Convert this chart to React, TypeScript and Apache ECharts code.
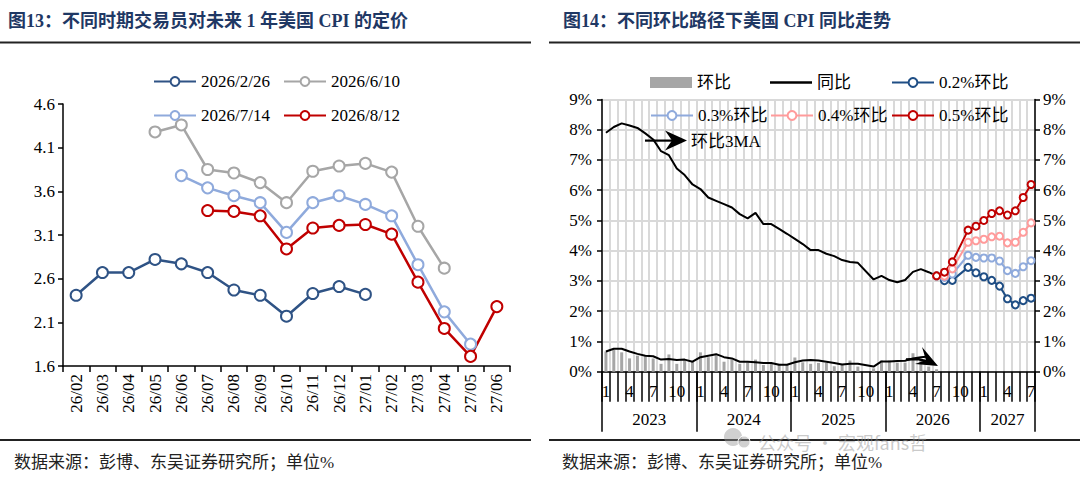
import React, { useEffect, useRef } from 'react';
import * as echarts from 'echarts';

const SERIF = '"Liberation Serif", "Times New Roman", "Noto Sans CJK SC", serif';
const TITLE_FONT = '"Liberation Serif", "Noto Sans CJK SC", serif';

// 图13 数据
const leftCategories = ['26/02', '26/03', '26/04', '26/05', '26/06', '26/07', '26/08', '26/09', '26/10', '26/11', '26/12', '27/01', '27/02', '27/03', '27/04', '27/05', '27/06'];
const leftTicks = [1.6, 2.1, 2.6, 3.1, 3.6, 4.1, 4.6];
const price0226 = [2.41, 2.67, 2.67, 2.82, 2.77, 2.67, 2.47, 2.41, 2.17, 2.43, 2.51, 2.42, null, null, null, null, null];
const price0610 = [null, null, null, 4.28, 4.36, 3.85, 3.81, 3.7, 3.47, 3.83, 3.89, 3.92, 3.82, 3.2, 2.72, null, null];
const price0714 = [null, null, null, null, 3.78, 3.64, 3.55, 3.47, 3.13, 3.47, 3.55, 3.45, 3.32, 2.76, 2.22, 1.85, null];
const price0812 = [null, null, null, null, null, 3.38, 3.37, 3.32, 2.94, 3.18, 3.21, 3.22, 3.11, 2.56, 2.03, 1.71, 2.28];

// 图14 数据
const years = ['2023', '2024', '2025', '2026', '2027'];
const monthsPerYear = [12, 12, 12, 12, 7];
const rightTicks = [0, 1, 2, 3, 4, 5, 6, 7, 8, 9];
// 2023/1 起
const yoy = [7.9, 8.09, 8.21, 8.14, 8.06, 7.88, 7.68, 7.29, 7.16, 6.72, 6.5, 6.19,
  6.04, 5.76, 5.65, 5.54, 5.43, 5.21, 5.07, 5.25, 4.88, 4.88, 4.72, 4.56,
  4.39, 4.22, 4.02, 4.02, 3.9, 3.82, 3.69, 3.63, 3.6, null, 3.05, 3.17,
  3.03, 2.96, 3.03, 3.3, 3.39, 3.29, 3.17];
const mom = [0.67, 0.73, 0.64, 0.44, 0.53, 0.51, 0.44, 0.26, 0.57, 0.26, 0.37, 0.33,
  0.64, 0.48, 0.56, 0.33, 0.4, 0.26, 0.31, 0.4, 0.22, 0.26, 0.26, 0.22,
  0.47, 0.31, 0.26, 0.29, 0.29, 0.18, 0.26, 0.37, 0.17, null, 0.11, 0.37,
  0.37, 0.3, 0.3, 0.61, 0.41, 0.17, 0.08];
const mom3ma = [0.67, 0.76, 0.76, 0.67, 0.59, 0.53, 0.51, 0.4, 0.42, 0.39, 0.4, 0.33,
  0.48, 0.53, 0.58, 0.48, 0.44, 0.33, 0.33, 0.31, 0.29, 0.29, 0.23, 0.23,
  0.31, 0.37, 0.39, 0.37, 0.33, 0.29, 0.24, 0.26, 0.26, null, 0.17, 0.34,
  0.34, 0.35, 0.36, 0.44, 0.48, 0.5];
// 情景预测 2026/7 起
const scenarioStart = '2026/7';
const path02 = [3.17, 3.01, 3.02, null, 3.45, 3.27, 3.14, 3.02, 2.83, 2.41, 2.21, 2.35, 2.43];
const path03 = [3.17, 3.12, 3.23, null, 3.85, 3.78, 3.76, 3.76, 3.66, 3.34, 3.25, 3.47, 3.67];
const path04 = [3.17, 3.16, 3.4, null, 4.28, 4.33, 4.38, 4.46, 4.48, 4.26, 4.28, 4.61, 4.92];
const path05 = [3.17, 3.29, 3.63, null, 4.68, 4.81, 5.0, 5.23, 5.32, 5.18, 5.32, 5.76, 6.19];

const monthCats: string[] = [];
years.forEach((y, i) => {
  for (let m = 1; m <= monthsPerYear[i]; m++) monthCats.push(`${y}/${m}`);
});
// 年份轴：半月刻度，boundaryGap false
const yearSlots: string[] = [];
for (let i = 0; i <= monthCats.length * 2; i++) yearSlots.push(`_${i}`);
const yearTickIdx: number[] = [];
const yearLabelIdx: number[] = [];
{
  let start = 0;
  years.forEach((y, i) => {
    yearTickIdx.push(start * 2);
    const c = start * 2 + monthsPerYear[i];
    yearSlots[c] = y;
    yearLabelIdx.push(c);
    start += monthsPerYear[i];
  });
  yearTickIdx.push(start * 2);
}
const pad = (arr: (number | null)[]) => {
  const n = monthCats.indexOf(scenarioStart);
  return new Array(n).fill(null).concat(arr);
};

const App: React.FC = () => {
  const chartRef = useRef<HTMLDivElement>(null);

  useEffect(() => {
    document.body.style.margin = '0';
    if (!chartRef.current) return undefined;
    const chart = echarts.init(chartRef.current, null, { renderer: 'svg' });

    const axisLine = { show: true, lineStyle: { color: '#000', width: 1.5 } };
    const labelStyle = { color: '#000', fontFamily: SERIF, fontSize: 17 };
    const lineSeries = (name: string, data: any[], color: string, xi: number, yi: number, size: number, width: number) => ({
      name,
      type: 'line',
      xAxisIndex: xi,
      yAxisIndex: yi,
      data,
      connectNulls: true,
      showAllSymbol: true,
      symbol: 'emptyCircle',
      symbolSize: size,
      lineStyle: { color, width },
      itemStyle: { color, borderColor: color, borderWidth: 2 },
    });
    const legendAt = (name: string, left: number, top: number, icon?: string, itemHeight = 11) => ({
      data: [icon ? { name, icon } : name],
      left,
      top,
      itemWidth: 42,
      itemHeight,
      itemGap: 0,
      textStyle: { ...labelStyle, fontSize: 17 },
    });

    const options: any = {
      animation: false,
      backgroundColor: '#fff',
      legend: [
        legendAt('2026/2/26', 148, 68),
        legendAt('2026/6/10', 278, 68),
        legendAt('2026/7/14', 148, 102),
        legendAt('2026/8/12', 278, 102),
        legendAt('环比', 645, 69, 'rect'),
        legendAt('同比', 765, 69, 'rect', 2.5),
        legendAt('0.2%环比', 886, 69),
        legendAt('0.3%环比', 645, 102),
        legendAt('0.4%环比', 765, 102),
        legendAt('0.5%环比', 886, 102),
      ],
      grid: [
        { left: 63, top: 104, width: 447, height: 262, outerBoundsMode: 'none' },
        { left: 602, top: 99.5, width: 433, height: 272.2, outerBoundsMode: 'none' },
        { left: 602, top: 99.5, width: 433, height: 272.2, outerBoundsMode: 'none' },
      ],
      xAxis: [
        {
          type: 'category',
          gridIndex: 0,
          data: leftCategories,
          axisLine,
          axisTick: { show: true, length: 6, lineStyle: { color: '#000', width: 1.5 } },
          axisLabel: { ...labelStyle, rotate: 90, margin: 8, interval: 0 },
        },
        {
          type: 'category',
          gridIndex: 1,
          data: monthCats,
          axisLine,
          axisTick: { show: true, interval: 0, length: 30, lineStyle: { color: '#000', width: 1.5 } },
          axisLabel: {
            ...labelStyle,
            margin: 11,
            interval: (i: number) => i % 3 === 0,
            formatter: (v: string) => v.split('/')[1],
          },
          splitLine: { show: true, interval: 0, lineStyle: { color: '#d9d9d9', width: 2 } },
        },
        {
          type: 'category',
          gridIndex: 2,
          data: yearSlots,
          boundaryGap: false,
          axisLine: { show: false },
          axisTick: {
            show: true,
            length: 60,
            interval: (i: number) => yearTickIdx.includes(i),
            lineStyle: { color: '#000', width: 1.5 },
          },
          axisLabel: {
            ...labelStyle,
            margin: 39,
            interval: (i: number) => yearLabelIdx.includes(i),
          },
        },
      ],
      yAxis: [
        {
          type: 'value',
          gridIndex: 0,
          min: leftTicks[0],
          max: leftTicks[leftTicks.length - 1],
          interval: 0.5,
          axisLine,
          axisTick: { show: true, length: 5, lineStyle: { color: '#000', width: 1.5 } },
          axisLabel: { ...labelStyle, margin: 8, formatter: (v: number) => v.toFixed(1) },
          splitLine: { show: false },
        },
        {
          type: 'value',
          gridIndex: 1,
          min: rightTicks[0],
          max: rightTicks[rightTicks.length - 1],
          interval: 1,
          axisLine,
          axisTick: { show: true, length: 5, lineStyle: { color: '#000', width: 1.5 } },
          axisLabel: { ...labelStyle, margin: 10, formatter: (v: number) => `${v}%` },
          splitLine: { show: true, lineStyle: { color: '#d9d9d9', width: 2 } },
        },
        {
          type: 'value',
          gridIndex: 1,
          position: 'right',
          min: rightTicks[0],
          max: rightTicks[rightTicks.length - 1],
          interval: 1,
          axisLine,
          axisTick: { show: true, length: 5, lineStyle: { color: '#000', width: 1.5 } },
          axisLabel: { ...labelStyle, margin: 8, formatter: (v: number) => `${v}%` },
          splitLine: { show: false },
        },
        { type: 'value', gridIndex: 2, show: false },
      ],
      series: [
        lineSeries('2026/2/26', price0226, '#2F5385', 0, 0, 11, 2.5),
        lineSeries('2026/6/10', price0610, '#A6A6A6', 0, 0, 11, 2.5),
        lineSeries('2026/7/14', price0714, '#8FAADC', 0, 0, 11, 2.5),
        lineSeries('2026/8/12', price0812, '#C00000', 0, 0, 11, 2.5),
        {
          name: '环比',
          type: 'bar',
          xAxisIndex: 1,
          yAxisIndex: 1,
          data: mom,
          barWidth: 3,
          itemStyle: { color: '#A6A6A6' },
        },
        {
          name: '同比',
          type: 'line',
          xAxisIndex: 1,
          yAxisIndex: 1,
          data: yoy,
          connectNulls: true,
          symbol: 'none',
          lineStyle: { color: '#000', width: 2 },
          itemStyle: { color: '#000' },
        },
        {
          name: '环比3MA',
          type: 'line',
          xAxisIndex: 1,
          yAxisIndex: 1,
          data: mom3ma,
          connectNulls: true,
          symbol: 'none',
          lineStyle: { color: '#000', width: 2 },
        },
        lineSeries('0.2%环比', pad(path02), '#1F4E85', 1, 1, 7, 2),
        lineSeries('0.3%环比', pad(path03), '#8FAADC', 1, 1, 7, 2),
        lineSeries('0.4%环比', pad(path04), '#FF9B9B', 1, 1, 7, 2),
        lineSeries('0.5%环比', pad(path05), '#C00000', 1, 1, 7, 2),
      ],
      graphic: [
        {
          type: 'text',
          style: { text: '图13：不同时期交易员对未来 1 年美国 CPI 的定价', x: 8, y: 21, fill: '#1F3864', fontFamily: TITLE_FONT, fontSize: 18, fontWeight: 'bold', verticalAlign: 'middle' },
        },
        {
          type: 'text',
          style: { text: '图14：不同环比路径下美国 CPI 同比走势', x: 563, y: 21, fill: '#1F3864', fontFamily: TITLE_FONT, fontSize: 18, fontWeight: 'bold', verticalAlign: 'middle' },
        },
        { type: 'line', shape: { x1: 0, y1: 42.5, x2: 531, y2: 42.5 }, style: { stroke: '#222', lineWidth: 2 } },
        { type: 'line', shape: { x1: 549, y1: 42.5, x2: 1080, y2: 42.5 }, style: { stroke: '#222', lineWidth: 2 } },
        { type: 'line', shape: { x1: 0, y1: 440, x2: 531, y2: 440 }, style: { stroke: '#222', lineWidth: 2 } },
        { type: 'line', shape: { x1: 549, y1: 440, x2: 1080, y2: 440 }, style: { stroke: '#222', lineWidth: 2 } },
        {
          type: 'text',
          style: { text: '数据来源：彭博、东吴证券研究所；单位%', x: 14, y: 462, fill: '#222', fontFamily: TITLE_FONT, fontSize: 17, verticalAlign: 'middle' },
        },
        {
          type: 'text',
          style: { text: '数据来源：彭博、东吴证券研究所；单位%', x: 562, y: 462, fill: '#222', fontFamily: TITLE_FONT, fontSize: 17, verticalAlign: 'middle' },
        },
        // 环比3MA 标注箭头
        { type: 'rect', z: 100, shape: { x: 645, y: 139.5, width: 28, height: 2.2 }, style: { fill: '#000' } },
        { type: 'polygon', z: 100, shape: { points: [[665, 130.5], [687, 140.5], [665, 150.5], [672, 140.5]] }, style: { fill: '#000' } },
        {
          type: 'text',
          z: 100,
          style: { text: '环比3MA', x: 691, y: 141, fill: '#000', fontFamily: SERIF, fontSize: 17, verticalAlign: 'middle' },
        },
        { type: 'polyline', z: 100, shape: { points: [[906, 359.5], [918, 359], [929, 362]] }, style: { stroke: '#000', lineWidth: 2.5, fill: 'none' } },
        { type: 'polygon', z: 100, shape: { points: [[922, 347], [938, 366], [915, 364], [926, 360]] }, style: { fill: '#000' } },
        // 水印
        { type: 'circle', z: 100, shape: { cx: 733, cy: 437, r: 9 }, style: { fill: 'rgba(150,150,150,0.45)' } },
        { type: 'circle', z: 100, shape: { cx: 744, cy: 442, r: 6 }, style: { fill: 'rgba(150,150,150,0.45)', stroke: '#fff', lineWidth: 1 } },
        {
          type: 'text',
          z: 100,
          style: { text: '公众号 · 宏观fans哲', x: 758, y: 442, fill: 'rgba(150,150,150,0.5)', fontFamily: '"Noto Sans CJK SC", "Noto Sans", sans-serif', fontSize: 18, lineHeight: 18, verticalAlign: 'middle' },
        },
      ],
    };
    chart.setOption(options);

    return () => {
      chart.dispose();
    };
  }, []);

  return <div ref={chartRef} style={{ width: '1080px', height: '484px' }} />;
};

export default App;
